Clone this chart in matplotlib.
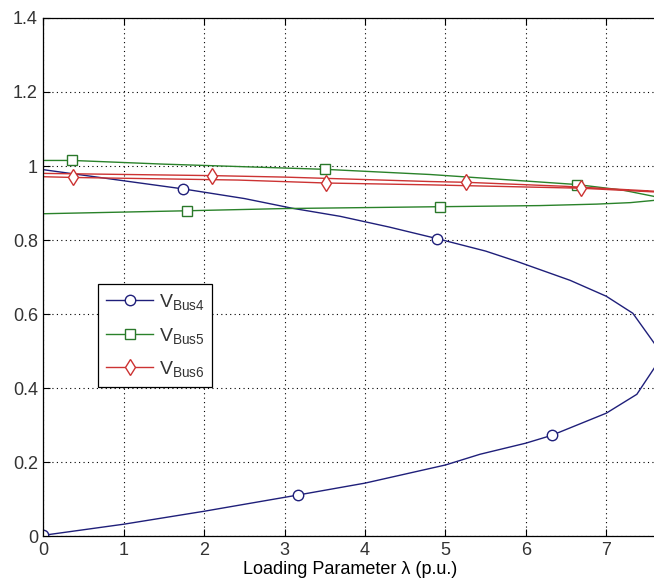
import numpy as np
import matplotlib
matplotlib.use('Agg')
import matplotlib.pyplot as plt

# PV curves: each path runs out along the upper branch to the nose and back along the lower one
lam_bus4 = [0, 0.5, 1.0, 1.74, 2.5, 3.09, 3.69, 4.3, 4.89, 5.5, 5.89, 6.55, 7.0, 7.33, 7.6, 7.66,
            7.6, 7.38, 7.0, 6.32, 6.0, 5.43, 5.0, 4.0, 3.17, 2.0, 1.0, 0]
v_bus4 = [0.99, 0.975, 0.96, 0.938, 0.912, 0.886, 0.864, 0.835, 0.804, 0.77, 0.742, 0.691, 0.648, 0.602, 0.52, 0.49,
          0.455, 0.383, 0.332, 0.272, 0.251, 0.221, 0.192, 0.143, 0.111, 0.067, 0.032, 0.002]
mk_bus4 = [3, 8, 19, 24, 27]

lam_bus5 = [0, 0.36, 1.5, 3.5, 4.81, 6.63, 7.2, 7.59, 7.66,
            7.59, 7.3, 6.88, 6.17, 4.93, 3.0, 1.78, 0]
v_bus5 = [1.015, 1.015, 1.005, 0.991, 0.977, 0.950, 0.935, 0.918, 0.911,
          0.907, 0.901, 0.897, 0.893, 0.890, 0.885, 0.879, 0.871]
mk_bus5 = [1, 3, 5, 13, 15]

lam_bus6 = [0, 0.37, 2.42, 3.52, 4.81, 6.68, 7.59, 7.66,
            7.59, 6.5, 5.25, 4.81, 3.0, 2.1, 0]
v_bus6 = [0.971, 0.969, 0.962, 0.954, 0.949, 0.940, 0.930, 0.931,
          0.932, 0.945, 0.956, 0.958, 0.970, 0.974, 0.980]
mk_bus6 = [1, 3, 5, 10, 13]

xticks = [0, 1, 2, 3, 4, 5, 6, 7]
yticks = [0, 0.2, 0.4, 0.6, 0.8, 1.0, 1.2, 1.4]
ytick_labels = ['0', '0.2', '0.4', '0.6', '0.8', '1', '1.2', '1.4']

plt.rcParams['font.family'] = ['Liberation Sans', 'DejaVu Sans']
plt.rcParams['mathtext.default'] = 'regular'
plt.rcParams['text.color'] = '#333333'
plt.rcParams['xtick.labelcolor'] = '#333333'
plt.rcParams['ytick.labelcolor'] = '#333333'

fig = plt.figure(figsize=(6.54, 5.88), dpi=100)
ax = fig.add_axes([0.0665, 0.0884, 0.938, 0.881])

ax.plot(lam_bus4, v_bus4, color='#1f1f7a', lw=1.0, marker='o', ms=7.5, mfc='white',
        mec='#1f1f7a', mew=1.0, markevery=mk_bus4, label=r'$V_{Bus4}$')
ax.plot(lam_bus5, v_bus5, color='#2a822a', lw=1.0, marker='s', ms=7.5, mfc='white',
        mec='#2a782a', mew=1.0, markevery=mk_bus5, label=r'$V_{Bus5}$')
ax.plot(lam_bus6, v_bus6, color='#cc3333', lw=1.0, marker='d', ms=8, mfc='white',
        mec='#cc3333', mew=1.0, markevery=mk_bus6, label=r'$V_{Bus6}$')

ax.set_xlim(0, 7.63)
ax.set_ylim(0, 1.4)
ax.set_xticks(xticks)
ax.set_yticks(yticks)
ax.set_yticklabels(ytick_labels)
ax.grid(True, color='black', linestyle=(0, (1, 3)), linewidth=0.8)
ax.tick_params(direction='in', length=5, labelsize=13, top=True, pad=4)
ax.spines['right'].set_visible(False)
for s in ['left', 'top', 'bottom']:
    ax.spines[s].set_linewidth(0.9)

ax.set_xlabel('Loading Parameter λ (p.u.)', fontsize=13, labelpad=2)

leg = ax.legend(loc='upper left', bbox_to_anchor=(0.0896, 0.486), borderaxespad=0,
                fancybox=False, framealpha=1, edgecolor='black', fontsize=14,
                handlelength=2.4, handletextpad=0.3, labelspacing=0.7, borderpad=0.4)
leg.get_frame().set_linewidth(0.9)

plt.savefig('out.png', dpi=100)
